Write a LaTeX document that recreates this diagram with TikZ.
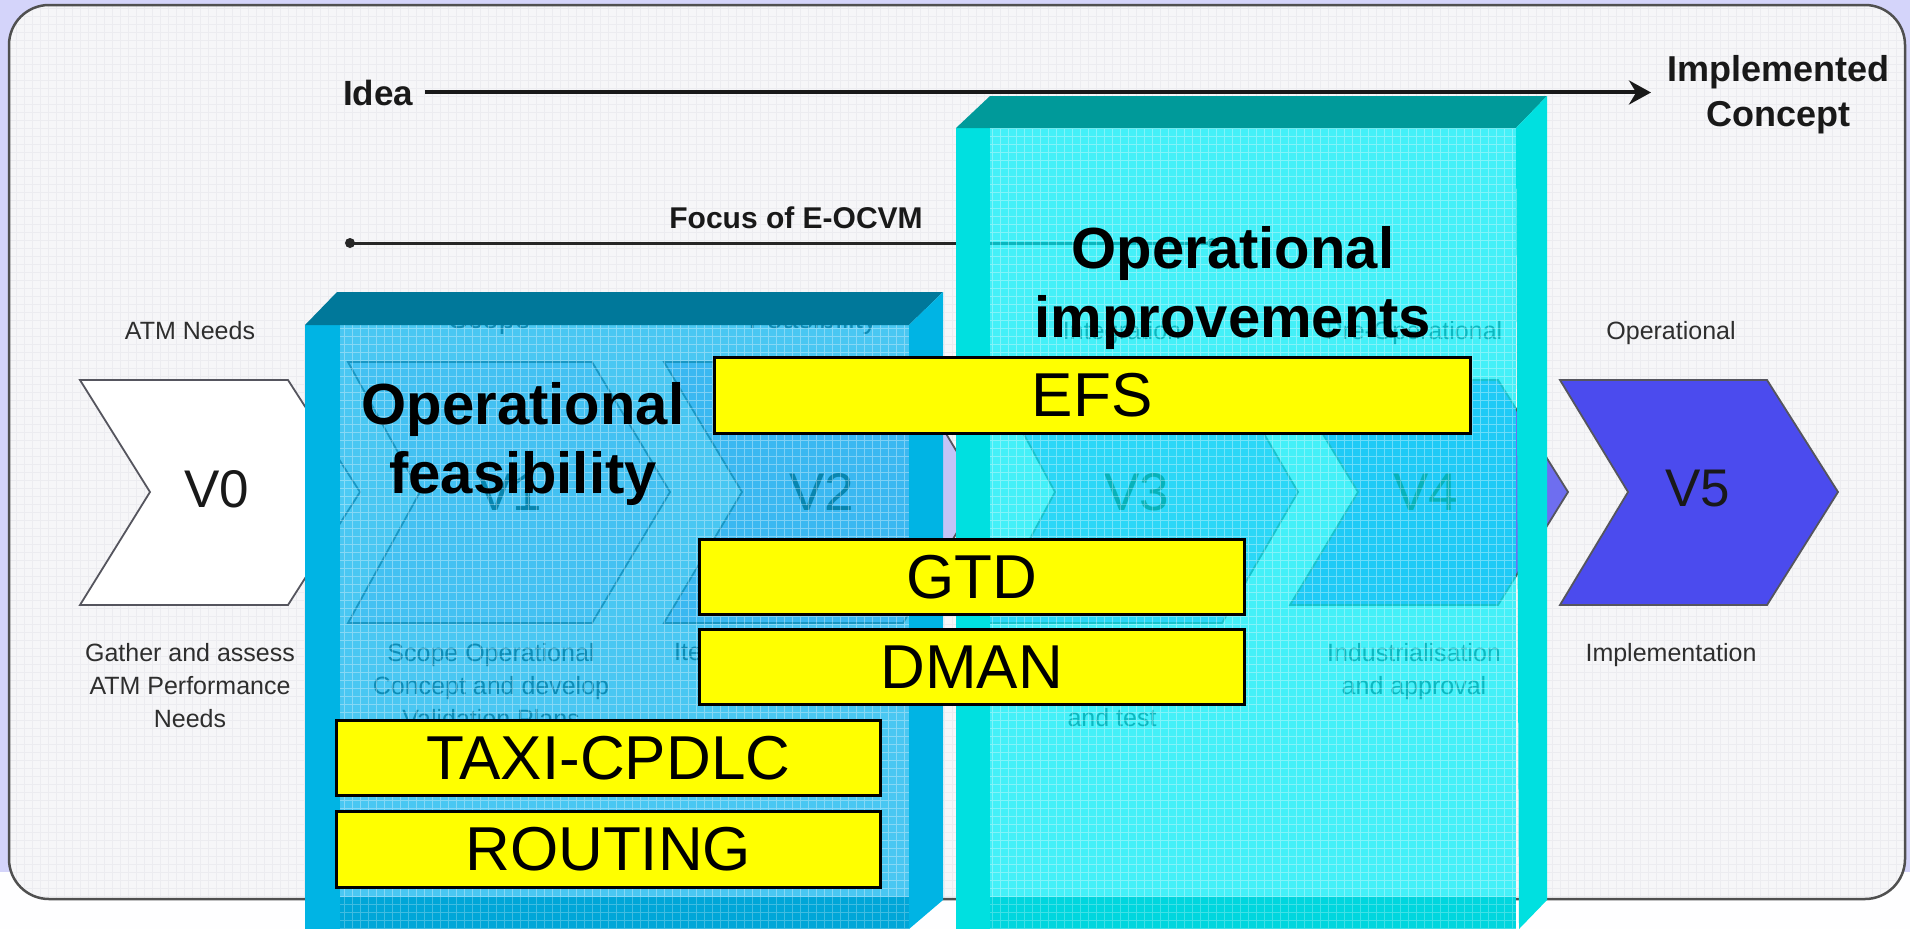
\documentclass[tikz,border=0pt]{standalone}
\usepackage{fontspec}
\setmainfont{Liberation Sans}
\usetikzlibrary{arrows.meta}
\definecolor{lav}{HTML}{D4D4FA}
\definecolor{pagebg}{HTML}{F6F6F8}
\definecolor{pagegrid}{HTML}{ECECF0}
\definecolor{frameline}{HTML}{505050}
\definecolor{chevline}{HTML}{55555E}
\definecolor{labgray}{HTML}{2E2E2E}
\definecolor{vone}{HTML}{E2E2FA}
\definecolor{vtwo}{HTML}{C4C4F6}
\definecolor{vthree}{HTML}{9C9CF2}
\definecolor{vfour}{HTML}{6E6EF0}
\definecolor{vfive}{HTML}{4B4BEE}
\definecolor{bluegl}{HTML}{00B4F0}
\definecolor{blueband}{HTML}{00B4E4}
\definecolor{bluebot}{HTML}{00A6D8}
\definecolor{bluetop}{HTML}{00789A}
\definecolor{cyangl}{HTML}{00EEF9}
\definecolor{cyanband}{HTML}{00E0E0}
\definecolor{cyanbot}{HTML}{00D6DE}
\definecolor{cyantop}{HTML}{009A9A}
\definecolor{yfill}{HTML}{FFFF00}
\begin{document}
\begin{tikzpicture}[x=1pt,y=-1pt,
  chev/.style={draw=chevline,line width=1.8pt,line join=miter},
  toplbl/.style={font=\fontsize{25}{33}\selectfont,text=labgray,inner sep=0pt,anchor=base},
  desc/.style={font=\fontsize{25}{33}\selectfont,text=labgray,inner sep=0pt,align=center,anchor=north},
  vlab/.style={font=\fontsize{53}{60}\selectfont,text=black!90,inner sep=0pt},
  yb/.style={draw=black,line width=2.5pt,fill=yfill,font=\fontsize{62}{70}\selectfont,inner sep=0pt,anchor=north west},
  big/.style={font=\fontsize{58}{69}\selectfont\bfseries,align=center,inner sep=0pt},
  hdr/.style={font=\fontsize{35}{45}\selectfont\bfseries,text=black!90,inner sep=0pt},
  gl/.style={white,opacity=0.35,line width=1pt}
]
\useasboundingbox (0,0) rectangle (1910,929);
% page background
\fill[lav] (0,0) rectangle (1910,929);
\fill[white!97!lav] (0,872) rectangle (1910,929);
\fill[pagebg,rounded corners=40pt] (9,5) rectangle (1905,899);
\begin{scope}
  \clip[rounded corners=40pt] (9,5) rectangle (1905,899);
  \draw[pagegrid,line width=0.6pt,step=8pt] (9,5) grid (1905,899);
\end{scope}
\draw[frameline,line width=2.5pt,rounded corners=40pt] (9,5) rectangle (1905,899);

% focus of E-OCVM
\node[hdr,font=\fontsize{30}{36}\selectfont\bfseries,anchor=base] (focus) at (796,228) {Focus of E-OCVM};
\coordinate (fl) at (350,243);
\coordinate (fr) at (1212,243);
\draw[line width=3pt,black!85] (fl) -- (fr);
\fill[black!85] (fl) circle (5pt);
\fill[black!85] (fr) circle (5pt);

% phase labels
\node[toplbl] (tATM) at (190,339) {ATM Needs};
\node[toplbl,font=\fontsize{29}{33}\selectfont] (tScope) at (490,328) {Scope};
\node[toplbl,font=\fontsize{29}{33}\selectfont] (tFeas) at (813,328) {Feasibility};
\node[toplbl] (tInt) at (1122,339) {Integration};
\node[toplbl] (tPre) at (1414,339) {Pre-Operational};
\node[toplbl] (tOp) at (1671,339) {Operational};

% chevrons
\draw[chev,fill=white] (80,380) -- (288,380) -- (360,492) -- (288,605) -- (80,605) -- (150,492) -- cycle;
\draw[chev,fill=vone] (348,362) -- (592,362) -- (670,492) -- (592,623) -- (348,623) -- (420,492) -- cycle;
\draw[chev,fill=vtwo] (664,362) -- (903,362) -- (981,492) -- (903,623) -- (664,623) -- (742,492) -- cycle;
\draw[chev,fill=vthree] (985,362) -- (1222,362) -- (1298,492) -- (1222,623) -- (985,623) -- (1055,492) -- cycle;
\draw[chev,fill=vfour] (1290,380) -- (1498,380) -- (1568,492) -- (1498,605) -- (1290,605) -- (1358,492) -- cycle;
\draw[chev,fill=vfive] (1560,380) -- (1767,380) -- (1838,492) -- (1767,605) -- (1560,605) -- (1628,492) -- cycle;

\node[vlab] (v0) at (217,489) {V0};
\node[vlab] (v1) at (510,492) {V1};
\node[vlab] (v2) at (822,492) {V2};
\node[vlab] (v3) at (1137,492) {V3};
\node[vlab] (v4) at (1426,492) {V4};
\node[vlab] (v5) at (1698,489) {V5};

% descriptions
\node[desc] (d0) at (190,643) {Gather and assess\\ATM Performance\\Needs};
\node[desc] (d1) at (491,643) {Scope Operational\\Concept and develop\\Validation Plans};
\node[desc,anchor=north west] (d2) at (674,643) {Ite};
\node[toplbl] (d3) at (1112,726) {and test};
\node[desc] (d4) at (1414,643) {Industrialisation\\and approval};
\node[desc] (d5) at (1671,643) {Implementation};

% blue box (operational feasibility)
\fill[bluegl,opacity=0.70] (340,325) rectangle (909,897);
\begin{scope}
  \clip (340,325) rectangle (909,897);
  \draw[gl,step=8pt] (340,325) grid (909,897);
\end{scope}
\fill[bluebot] (340,897) rectangle (909,929);
\begin{scope}
  \clip (340,897) rectangle (909,929);
  \draw[gl,opacity=0.25,step=8pt] (340,897) grid (909,929);
\end{scope}
\fill[blueband] (305,325) rectangle (340,929);
\fill[bluetop] (305,325) -- (337,292) -- (943,292) -- (909,325) -- cycle;
\fill[blueband] (909,325) -- (943,292) -- (943,900) -- (909,929) -- cycle;

% cyan box (operational improvements)
\fill[cyangl,opacity=0.72] (990,128) rectangle (1516,897);
\begin{scope}
  \clip (990,128) rectangle (1516,897);
  \draw[gl,step=8pt] (990,128) grid (1516,897);
\end{scope}
\fill[cyanbot] (990,897) rectangle (1516,929);
\begin{scope}
  \clip (990,897) rectangle (1516,929);
  \draw[gl,opacity=0.25,step=8pt] (990,897) grid (1516,929);
\end{scope}
\fill[cyanband] (956,128) rectangle (990,929);
\fill[cyantop] (956,128) -- (990,96) -- (1547,96) -- (1516,128) -- cycle;
\fill[cyanband] (1516,128) -- (1547,96) -- (1547,900) -- (1519,929) -- cycle;

% idea arrow
\node[hdr,anchor=base west] (idea) at (343,105) {Idea};
\coordinate (ideaend) at (1651,94);
\draw[line width=4pt,black!90,-{Stealth[length=22pt,width=24pt]}] ([xshift=12pt]idea.east) -- (idea.east -| ideaend);
\node[hdr,font=\fontsize{36}{45}\selectfont\bfseries,align=center] (impl) at (1778,95) {Implemented\\Concept};

% big labels
\node[big] (feas) at (523,444) {Operational\\feasibility};
\node[big] (impr) at (1233,288) {Operational\\improvements};

% yellow boxes
\node[yb,minimum width=756pt,minimum height=76pt] (efs) at (713,356) {EFS};
\node[yb,minimum width=545pt,minimum height=75pt] (gtd) at (698,538) {GTD};
\node[yb,minimum width=545pt,minimum height=75pt] (dman) at (698,628) {DMAN};
\node[yb,minimum width=544pt,minimum height=75pt] (taxi) at (335,719) {TAXI-CPDLC};
\node[yb,minimum width=544pt,minimum height=76pt] (routing) at (335,810) {ROUTING};
\end{tikzpicture}
\end{document}
